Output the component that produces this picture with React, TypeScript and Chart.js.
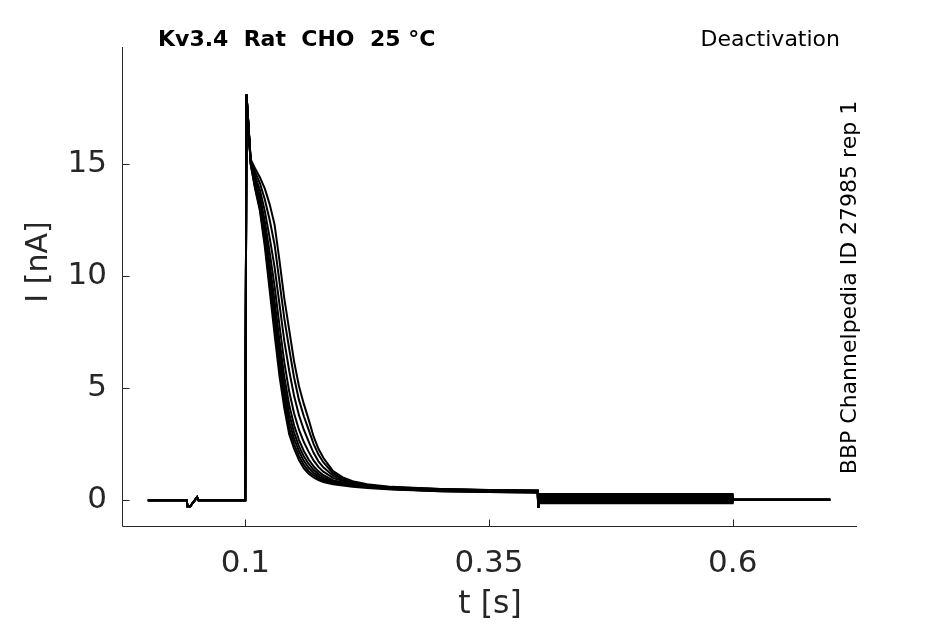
import { useEffect, useRef } from "react";
import { Chart, registerables } from "chart.js";

Chart.register(...registerables);

const FONT = "DejaVu Sans";

// tick positions
const xTicks = [0.1, 0.35, 0.6];
const yTicks = [0, 5, 10, 15];

// holding period + capacitive blip + step onset (shared by every sweep)
const preT = [0, 0.04, 0.0405, 0.0435, 0.046, 0.0485, 0.0505, 0.052, 0.0999, 0.1012];
const preI = [0, 0, -0.27, -0.27, -0.12, 0.02, 0.14, 0, 0, 18.1];

// decay phase time grid (s)
const decayT = [0.1055, 0.11, 0.115, 0.12, 0.125, 0.13, 0.135, 0.14, 0.145, 0.15, 0.155, 0.16, 0.165, 0.17, 0.175, 0.18, 0.19, 0.2, 0.21, 0.225, 0.25, 0.3, 0.35, 0.4];

// decay phase current (nA), one array per sweep
const sweep1 = [15.0, 13.9, 12.9, 11.3, 9.35, 7.4, 5.55, 4.1, 2.95, 2.3, 1.8, 1.42, 1.18, 1.02, 0.9, 0.82, 0.72, 0.66, 0.61, 0.55, 0.48, 0.4, 0.37, 0.35];
const sweep2 = [15.0, 13.96, 13.0, 11.5, 9.6, 7.7, 5.9, 4.4, 3.2, 2.5, 1.98, 1.58, 1.3, 1.12, 0.98, 0.88, 0.76, 0.69, 0.64, 0.6, 0.55, 0.48, 0.45, 0.43];
const sweep3 = [15.03, 14.04, 13.12, 11.7, 9.9, 8.05, 6.3, 4.75, 3.5, 2.75, 2.2, 1.76, 1.45, 1.23, 1.07, 0.95, 0.8, 0.72, 0.66, 0.58, 0.5, 0.42, 0.39, 0.37];
const sweep4 = [15.05, 14.1, 13.24, 11.88, 10.2, 8.45, 6.7, 5.1, 3.85, 3.02, 2.42, 1.96, 1.62, 1.36, 1.17, 1.03, 0.85, 0.76, 0.7, 0.63, 0.57, 0.49, 0.46, 0.44];
const sweep5 = [15.07, 14.18, 13.38, 12.1, 10.55, 8.9, 7.15, 5.5, 4.25, 3.35, 2.7, 2.2, 1.82, 1.52, 1.29, 1.12, 0.9, 0.78, 0.68, 0.59, 0.5, 0.41, 0.37, 0.34];
const sweep6 = [15.1, 14.3, 13.58, 12.45, 11.05, 9.55, 7.8, 6.15, 4.85, 3.88, 3.15, 2.6, 2.16, 1.78, 1.49, 1.28, 1.0, 0.85, 0.75, 0.67, 0.58, 0.5, 0.46, 0.44];
const sweep7 = [15.13, 14.46, 13.84, 12.9, 11.7, 10.4, 8.75, 7.1, 5.78, 4.66, 3.8, 3.15, 2.62, 2.12, 1.74, 1.47, 1.1, 0.9, 0.75, 0.64, 0.54, 0.45, 0.41, 0.39];
const sweep8 = [15.17, 14.64, 14.14, 13.42, 12.5, 11.4, 9.75, 8.1, 6.75, 5.48, 4.48, 3.75, 3.14, 2.52, 2.04, 1.7, 1.2, 0.95, 0.78, 0.66, 0.55, 0.44, 0.4, 0.38];
const sweep9 = [15.2, 14.8, 14.4, 13.9, 13.2, 12.3, 10.7, 9.0, 7.6, 6.2, 5.1, 4.3, 3.6, 2.85, 2.3, 1.9, 1.3, 1.02, 0.85, 0.72, 0.6, 0.5, 0.45, 0.42];

// level of each sweep during the 0.4–0.6 s step (nA)
const tailLevels = [0.28, 0.02, 0.22, -0.08, 0.12, -0.13, 0.17, -0.03, 0.07];

// step-off transient and final holding
const postT = [0.4004, 0.6004, 0.7];
const postI = [-0.3, 0.02, 0.02];

const sweeps = [sweep1, sweep2, sweep3, sweep4, sweep5, sweep6, sweep7, sweep8, sweep9];

function buildSweep(idx: number) {
  const pts: { x: number; y: number }[] = [];
  preT.forEach((t, i) => pts.push({ x: t, y: preI[i] }));
  decayT.forEach((t, i) => pts.push({ x: t, y: sweeps[idx][i] }));
  pts.push({ x: postT[0], y: postI[0] });
  pts.push({ x: 0.401, y: tailLevels[idx] });
  pts.push({ x: 0.6, y: tailLevels[idx] });
  pts.push({ x: postT[1], y: postI[1] });
  pts.push({ x: postT[2], y: postI[2] });
  return pts;
}

const decorPlugin = {
  id: "decor",
  afterDraw(chart: any) {
    const { ctx, chartArea } = chart;
    const { left, right, top, bottom } = chartArea;
    const xs = chart.scales.x;
    const ys = chart.scales.y;
    ctx.save();
    ctx.strokeStyle = "#262626";
    ctx.lineWidth = 1;
    ctx.beginPath();
    ctx.moveTo(left - 0.5, top);
    ctx.lineTo(left - 0.5, bottom - 0.5);
    ctx.lineTo(right, bottom - 0.5);
    for (const v of xTicks) {
      const px = Math.round(xs.getPixelForValue(v)) + 0.5;
      ctx.moveTo(px, bottom - 0.5);
      ctx.lineTo(px, bottom - 7.5);
    }
    for (const v of yTicks) {
      const py = Math.round(ys.getPixelForValue(v)) + 0.5;
      ctx.moveTo(left - 0.5, py);
      ctx.lineTo(left + 6.5, py);
    }
    ctx.stroke();

    // y axis label
    ctx.save();
    ctx.fillStyle = "#262626";
    ctx.translate(39, 262);
    ctx.rotate(-Math.PI / 2);
    ctx.textAlign = "center";
    ctx.textBaseline = "middle";
    ctx.font = `30px "${FONT}"`;
    ctx.fillText("I [nA]", 0, 0);
    ctx.restore();

    ctx.fillStyle = "#000";
    ctx.font = `bold 22px "${FONT}"`;
    ctx.textAlign = "left";
    ctx.textBaseline = "alphabetic";
    ctx.fillText("Kv3.4  Rat  CHO  25 °C", 158, 46);

    ctx.font = `22px "${FONT}"`;
    ctx.textAlign = "right";
    ctx.fillText("Deactivation", 840, 46);

    ctx.translate(856, 287.5);
    ctx.rotate(-Math.PI / 2);
    ctx.textAlign = "center";
    ctx.font = `22px "${FONT}"`;
    ctx.fillText("BBP Channelpedia ID 27985 rep 1", 0, 0);
    ctx.restore();
  },
};

export default function App() {
  const ref = useRef<HTMLCanvasElement | null>(null);

  useEffect(() => {
    document.body.style.margin = "0";
    const canvas = ref.current;
    if (!canvas) return;
    const datasets = sweeps.map((_, i) => ({
      label: `sweep ${i + 1}`,
      data: buildSweep(i),
      borderColor: "#000",
      backgroundColor: "#000",
      borderWidth: 2,
      pointRadius: 0,
      tension: 0,
      fill: false,
    }));
    const chart = new Chart(canvas, {
      type: "line",
      data: { datasets },
      plugins: [decorPlugin],
      options: {
        responsive: false,
        animation: false,
        parsing: false,
        normalized: true,
        layout: { padding: { left: 0, right: 88, top: 47, bottom: 0 } },
        plugins: {
          legend: { display: false },
          tooltip: { enabled: false },
          title: { display: false },
        },
        scales: {
          x: {
            type: "linear",
            min: -0.0255,
            max: 0.7275,
            grid: { display: false, drawTicks: false },
            border: { display: false },
            afterBuildTicks: (s: any) => {
              s.ticks = xTicks.map((v) => ({ value: v }));
            },
            afterFit: (s: any) => {
              s.height = 97;
            },
            ticks: {
              autoSkip: false,
              maxRotation: 0,
              padding: 18,
              color: "#262626",
              font: { family: FONT, size: 31 },
              callback: (v: any) => String(v),
            },
            title: {
              display: true,
              text: "t [s]",
              color: "#262626",
              font: { family: FONT, size: 31.5 },
              padding: { top: 0, bottom: 0 },
            },
          },
          y: {
            type: "linear",
            min: -1.19,
            max: 20.22,
            grid: { display: false, drawTicks: false },
            border: { display: false },
            afterBuildTicks: (s: any) => {
              s.ticks = yTicks.map((v) => ({ value: v }));
            },
            afterFit: (s: any) => {
              s.width = 123;
            },
            ticks: {
              autoSkip: false,
              padding: 16,
              color: "#262626",
              font: { family: FONT, size: 31 },
              callback: (v: any) => String(v),
            },
            title: { display: false },
          },
        },
      },
    } as any);
    return () => chart.destroy();
  }, []);

  return (
    <div style={{ position: "absolute", left: 0, top: 0, width: 945, height: 624, background: "#fff" }}>
      <canvas ref={ref} width={945} height={624} />
    </div>
  );
}
